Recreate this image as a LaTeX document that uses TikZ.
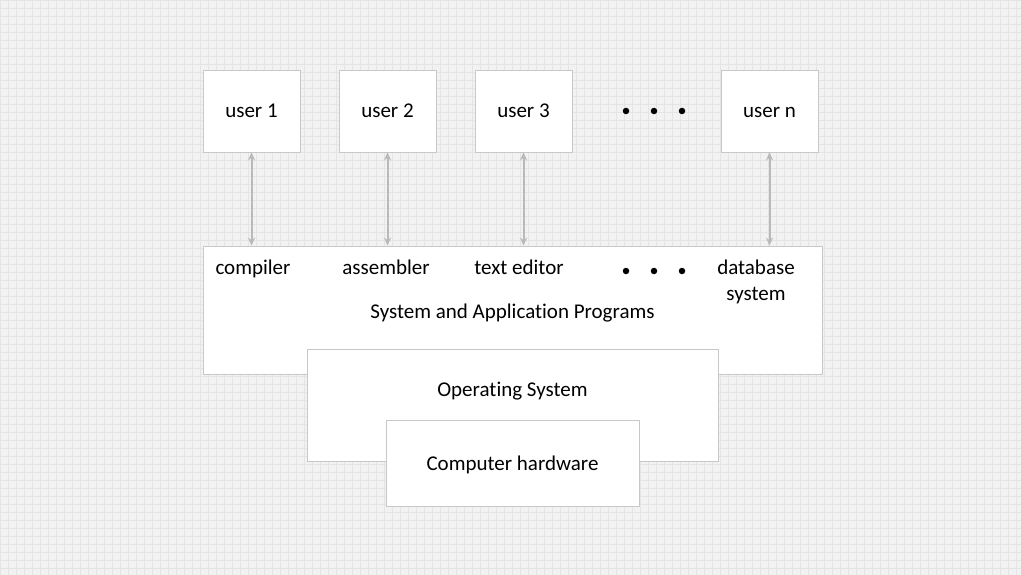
\documentclass[tikz,border=0pt]{standalone}
\usepackage{fontspec}
\setmainfont{Carlito}[Ligatures={NoCommon}]
\usetikzlibrary{arrows.meta}
\definecolor{bgc}{RGB}{242,242,242}
\definecolor{gridc}{RGB}{228,228,228}
\definecolor{boxc}{RGB}{200,200,200}
\definecolor{arrc}{RGB}{185,185,185}
\begin{document}
\begin{tikzpicture}[x=1pt,y=-1pt,
  every node/.style={font=\fontsize{21}{25}\selectfont},
  userbox/.style={draw=boxc,line width=0.8pt,fill=white,minimum width=97pt,minimum height=82pt,inner sep=0pt,text height=14pt,text depth=0pt},
  layer/.style={draw=boxc,line width=0.8pt,fill=white,inner sep=0pt},
  link/.style={draw=arrc,line width=2pt,{Stealth[length=8pt,width=7pt]}-{Stealth[length=8pt,width=7pt]}},
  label/.style={inner sep=0pt,anchor=base},
  dot/.style={circle,fill=black,inner sep=0pt,minimum size=6.5pt}]
\useasboundingbox (0,0) rectangle (1021,575);
\fill[bgc] (0,0) rectangle (1021,575);
\draw[gridc,line width=0.7pt,step=8pt] (0,0) grid (1021,575);
% users
\node[userbox] (u1) at (251.5,111) {user 1};
\node[userbox] (u2) at (387.5,111) {user 2};
\node[userbox] (u3) at (523.5,111) {user 3};
\node[userbox] (un) at (769.5,111) {user n};
\node[dot] (d1) at (626,111) {};
\node[dot] (d2) at (654,111) {};
\node[dot] (d3) at (682,111) {};
% layers
\node[layer,minimum width=619pt,minimum height=128pt] (sys) at (512.5,310) {};
\node[layer,minimum width=411pt,minimum height=112pt] (os) at (512.5,405) {};
\node[layer,minimum width=253pt,minimum height=86pt] (hw) at (512.5,463) {};
% texts
\node[label] (tc) at (253,274) {compiler};
\node[label] (ta) at (386,274) {assembler};
\node[label] (te) at (519,274) {text editor};
\node[label,align=center,anchor=north] (td) at (756,260) {database\\[1pt]system};
\node[dot] (e1) at (626,271) {};
\node[dot] (e2) at (654,271) {};
\node[dot] (e3) at (682,271) {};
\node[label] (tsys) at (512.5,318) {System and Application Programs};
\node[label] (tos) at (512.5,396) {Operating System};
\node[label] (thw) at (512.5,470) {Computer hardware};
% links
\draw[link] (u1.south) -- (u1.south |- sys.north);
\draw[link] (u2.south) -- (u2.south |- sys.north);
\draw[link] (u3.south) -- (u3.south |- sys.north);
\draw[link] (un.south) -- (un.south |- sys.north);
\end{tikzpicture}
\end{document}
